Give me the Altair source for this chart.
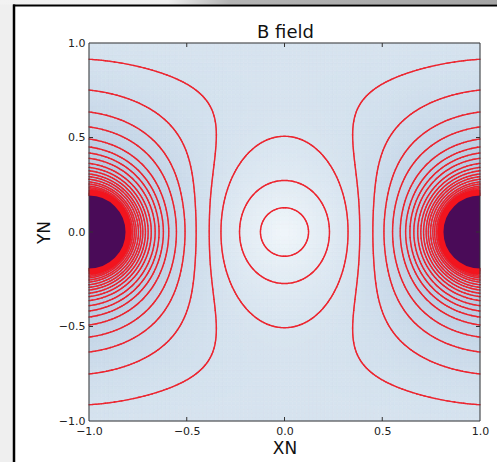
import numpy as np
import pandas as pd
import altair as alt

# ---------------- values ----------------
title_text = "B field"
x_title = "XN"
y_title = "YN"
tick_values = [-1.0, -0.5, 0.0, 0.5, 1.0]
inner_ticks = [-0.5, 0.0, 0.5]

# two line currents (same direction) on y = 0
wire_pos = [-1.0, 1.0]
wire_current = [1.0, 1.0]
# vertical fall-off of the field seen in the picture (weaker near x = 0)
decay_center = 0.274
decay_extra = 0.25
decay_width = 0.55
decay_soft = 0.15

# where contours cross the x axis (inner closed curves + first lobe)
axis_cross_x = [0.123, 0.23, 0.325, 0.385]
# where the following lobe contours cross the left border x = -1
edge_cross_y = [0.751, 0.635, 0.556, 0.492, 0.45, 0.418, 0.39, 0.363, 0.342,
                0.324, 0.307, 0.293, 0.279, 0.265, 0.254, 0.243, 0.235, 0.228,
                0.221, 0.215, 0.209, 0.204, 0.2, 0.196, 0.193]
core_radius = 0.19   # radius of the saturated dark core
ring_width = 0.03    # solid red band of merged contours round the core

bg_stops = [0.0, 0.8, 2.0, 4.0]
bg_colors = ["#f0f6fa", "#d6e3ef", "#bccfe4", "#a9bedb"]
core_color = "#4a0b58"
line_color = "#ee1c25"
ring_color = "#f2141e"


def field(x, y):
    x = np.asarray(x, dtype=float)
    y = np.asarray(y, dtype=float)
    z = x + 1j * y
    total = np.zeros_like(z, dtype=complex)
    for a, s in zip(wire_pos, wire_current):
        total = total + s / (z - a)
    a_x = decay_center + decay_extra * (1 - np.exp(-(x / decay_width) ** 2))
    s_y = np.sqrt(y * y + decay_soft ** 2) - decay_soft
    return np.abs(total) * np.exp(-a_x * s_y)


levels = list(field(np.array(axis_cross_x), np.zeros(len(axis_cross_x))))
levels += list(field(-np.ones(len(edge_cross_y)), np.array(edge_cross_y)))

# ---------------- contour segments (marching squares) ----------------
n = 320
gx = np.linspace(-1, 1, n)
gy = np.linspace(-1, 1, n)
GX, GY = np.meshgrid(gx, gy)
with np.errstate(divide="ignore", invalid="ignore"):
    GZ = field(GX, GY)
GZ = np.where(np.isfinite(GZ), GZ, 1e9)


def march(level):
    zc = [GZ[:-1, :-1], GZ[:-1, 1:], GZ[1:, 1:], GZ[1:, :-1]]
    xc = [GX[:-1, :-1], GX[:-1, 1:], GX[1:, 1:], GX[1:, :-1]]
    yc = [GY[:-1, :-1], GY[:-1, 1:], GY[1:, 1:], GY[1:, :-1]]
    M, PX, PY = [], [], []
    for a, b in [(0, 1), (1, 2), (2, 3), (3, 0)]:
        za, zb = zc[a], zc[b]
        m = (za - level) * (zb - level) < 0
        d = np.where(m, zb - za, 1.0)
        t = np.where(m, (level - za) / d, 0.0)
        M.append(m)
        PX.append(xc[a] + t * (xc[b] - xc[a]))
        PY.append(yc[a] + t * (yc[b] - yc[a]))
    M = np.stack(M)
    PX = np.stack(PX)
    PY = np.stack(PY)
    cnt = M.sum(axis=0)
    out = []
    ii, jj = np.nonzero(cnt == 2)
    if len(ii):
        sub = M[:, ii, jj]
        f = np.argmax(sub, axis=0)
        l = 3 - np.argmax(sub[::-1], axis=0)
        out.append(np.column_stack([PX[f, ii, jj], PY[f, ii, jj], PX[l, ii, jj], PY[l, ii, jj]]))
    ii, jj = np.nonzero(cnt == 4)
    if len(ii):
        for e1, e2 in [(0, 1), (2, 3)]:
            out.append(np.column_stack([PX[e1, ii, jj], PY[e1, ii, jj], PX[e2, ii, jj], PY[e2, ii, jj]]))
    return np.vstack(out) if out else np.zeros((0, 4))


segs = np.vstack([march(L) for L in levels])
seg_df = pd.DataFrame(np.round(segs, 4), columns=["x", "y", "x2", "y2"])

# ---------------- background cells ----------------
nh = 96
edges = np.linspace(-1, 1, nh + 1)
cent = (edges[:-1] + edges[1:]) / 2
CX, CY = np.meshgrid(cent, cent)
CV = field(CX, CY)


def hex2rgb(h):
    return [int(h[i:i + 2], 16) for i in (1, 3, 5)]


rgb = np.array([hex2rgb(c) for c in bg_colors], dtype=float)
cols = []
for v in CV.ravel():
    r = [int(round(np.interp(v, bg_stops, rgb[:, k]))) for k in range(3)]
    cols.append("#%02x%02x%02x" % tuple(r))
ix, iy = np.meshgrid(np.arange(nh), np.arange(nh))
heat_df = pd.DataFrame({
    "x0": np.round(edges[ix.ravel()], 4), "x1": np.round(edges[ix.ravel() + 1], 4),
    "y0": np.round(edges[iy.ravel()], 4), "y1": np.round(edges[iy.ravel() + 1], 4),
    "c": cols,
})
core_df = pd.DataFrame({"x": wire_pos, "y": [0.0, 0.0]})

# ---------------- chart ----------------
W, H = 391, 378
xs = alt.Scale(domain=[-1, 1], nice=False, zero=False)
ys = alt.Scale(domain=[-1, 1], nice=False, zero=False)
x_axis = alt.Axis(values=tick_values, format=".1f", title=x_title, labelFlush=False)
y_axis = alt.Axis(values=tick_values, format=".1f", title=y_title, labelFlush=False)

one = pd.DataFrame({"k": [0]})

# window decoration around the figure
left_strip = alt.Chart(one).mark_rect(fill="#efefef").encode(
    x=alt.value(-89), x2=alt.value(-76), y=alt.value(-43), y2=alt.value(430))
top_strip = alt.Chart(one).mark_rect(
    fill=alt.Gradient(gradient="linear",
                      stops=[alt.GradientStop(color="#f2f2f2", offset=0),
                             alt.GradientStop(color="#eeeeee", offset=0.33),
                             alt.GradientStop(color="#b4b4b4", offset=0.45),
                             alt.GradientStop(color="#a4a4a4", offset=1)],
                      x1=0, x2=1, y1=0, y2=0)
).encode(x=alt.value(-89), x2=alt.value(420), y=alt.value(-43), y2=alt.value(-38.5))
left_line = alt.Chart(one).mark_rule(color="black", strokeWidth=2.5).encode(
    x=alt.value(-75), y=alt.value(-38.5), y2=alt.value(430))
top_line = alt.Chart(one).mark_rule(color="black", strokeWidth=2).encode(
    x=alt.value(-76), x2=alt.value(420), y=alt.value(-37.5))

title_mark = alt.Chart(one).mark_text(
    text=title_text, font="DejaVu Sans", fontSize=18, color="#111111",
    align="center", baseline="alphabetic").encode(x=alt.value(W / 2 + 1), y=alt.value(-5.5))

heat = alt.Chart(heat_df).mark_rect(strokeWidth=0.6).encode(
    x=alt.X("x0:Q", scale=xs, axis=x_axis),
    x2="x1:Q",
    y=alt.Y("y0:Q", scale=ys, axis=y_axis),
    y2="y1:Q",
    fill=alt.Fill("c:N", scale=None),
    stroke=alt.Stroke("c:N", scale=None),
)

px_per_unit = (W + H) / 4.0
ring_px = ring_width * px_per_unit
core_d = 2 * core_radius * px_per_unit + ring_px   # symbol diameter (stroke centred on edge)
core = alt.Chart(core_df).mark_circle(fill=core_color, stroke=ring_color, strokeWidth=ring_px,
                                      opacity=1, clip=True, size=core_d ** 2).encode(
    x=alt.X("x:Q", scale=xs, axis=x_axis),
    y=alt.Y("y:Q", scale=ys, axis=y_axis),
)

lines = alt.Chart(seg_df).mark_rule(color=line_color, strokeWidth=1.4, opacity=0.8,
                                    strokeCap="round").encode(
    x=alt.X("x:Q", scale=xs, axis=x_axis),
    y=alt.Y("y:Q", scale=ys, axis=y_axis),
    x2="x2:Q",
    y2="y2:Q",
)

tdf = pd.DataFrame({"t": inner_ticks})
tick_style = dict(color="#333333", strokeWidth=1)
tb = alt.Chart(tdf).mark_rule(**tick_style).encode(
    x=alt.X("t:Q", scale=xs, axis=x_axis), y=alt.value(H), y2=alt.value(H - 4))
tt = alt.Chart(tdf).mark_rule(**tick_style).encode(
    x=alt.X("t:Q", scale=xs, axis=x_axis), y=alt.value(0), y2=alt.value(4))
tl = alt.Chart(tdf).mark_rule(**tick_style).encode(
    y=alt.Y("t:Q", scale=ys, axis=y_axis), x=alt.value(0), x2=alt.value(4))
tr = alt.Chart(tdf).mark_rule(**tick_style).encode(
    y=alt.Y("t:Q", scale=ys, axis=y_axis), x=alt.value(W), x2=alt.value(W - 4))

frame = alt.Chart(one).mark_rect(filled=False, stroke="#333333", strokeWidth=1).encode(
    x=alt.value(0), x2=alt.value(W), y=alt.value(0), y2=alt.value(H))

chart = alt.layer(left_strip, top_strip, left_line, top_line, heat, lines, core,
                  tb, tt, tl, tr, frame, title_mark).properties(
    width=W, height=H,
    autosize=alt.AutoSizeParams(type="none"),
    padding={"left": 89, "top": 43, "right": 17, "bottom": 41},
    background="white",
).configure_view(stroke=None).configure_axis(
    domain=False, ticks=False, tickSize=0, grid=False,
    labelFont="DejaVu Sans", labelFontSize=11, labelColor="#222222", labelPadding=4,
    titleFont="DejaVu Sans", titleFontSize=17, titleFontWeight="normal", titleColor="#111111",
    zindex=1,
).configure_axisX(titlePadding=4).configure_axisY(titlePadding=5)

chart.save("out.html", embed_options={"renderer": "svg", "actions": False})
